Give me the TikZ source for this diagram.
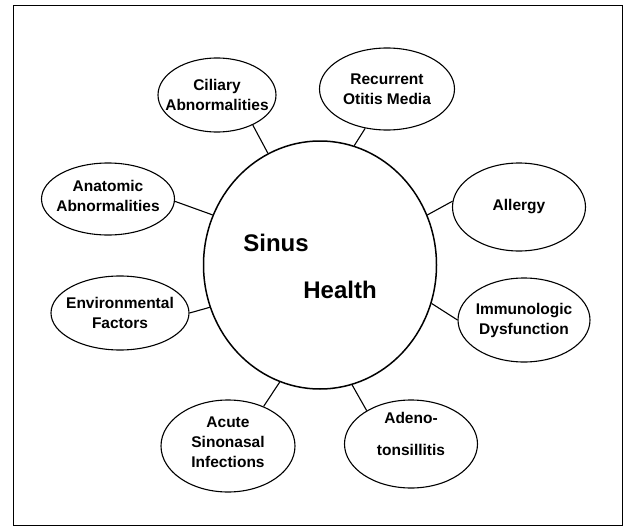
\documentclass[tikz,border=0pt]{standalone}
\usepackage{fontspec}
\setmainfont{Liberation Sans}
\usetikzlibrary{shapes, positioning}

\begin{document}
\begin{tikzpicture}[
        x=1pt, y=-1pt,
        hub/.style={ellipse, draw, line width=1.5pt, minimum width=233pt, minimum height=248pt, inner sep=0pt},
        sat/.style={ellipse, draw, line width=1.1pt, inner sep=0pt},
        lbl/.style={font=\bfseries\fontsize{15.5}{20}\selectfont, align=center, inner sep=0pt},
        big/.style={font=\bfseries\fontsize{24}{28}\selectfont, inner sep=0pt},
        link/.style={line width=1.1pt}
    ]
    \useasboundingbox (0,0) rectangle (624,527);

    % --- Frame ---
    \draw[line width=1pt] (13,6) rectangle (622,525);

    % --- Hub ---
    \node[hub] (hub) at (320,265) {};
    \node[big] (sinus) at (276,243) {Sinus};
    \node[big] (health) at (340,290) {Health};

    % --- Satellites ---
    \node[sat, minimum width=118pt, minimum height=74pt] (cil) at (217,95) {};
    \node[lbl] (cil-t) at (cil) {Ciliary\\Abnormalities};

    \node[sat, minimum width=135pt, minimum height=82pt] (otitis) at (387,89) {};
    \node[lbl] (otitis-t) at (otitis) {Recurrent\\Otitis Media};

    \node[sat, minimum width=133pt, minimum height=72pt] (anat) at (108,199) {};
    \node[lbl, yshift=3pt] (anat-t) at (anat) {Anatomic\\Abnormalities};

    \node[sat, minimum width=133pt, minimum height=88pt] (allergy) at (519,207) {};
    \node[lbl] (allergy-t) at (allergy) {Allergy};

    \node[sat, minimum width=138pt, minimum height=74pt] (env) at (120,313) {};
    \node[lbl] (env-t) at (env) {Environmental\\Factors};

    \node[sat, minimum width=132pt, minimum height=84pt] (immuno) at (524,320) {};
    \node[lbl] (immuno-t) at (immuno) {Immunologic\\Dysfunction};

    \node[sat, minimum width=134pt, minimum height=92pt] (acute) at (228,446) {};
    \node[lbl, yshift=4pt] (acute-t) at (acute) {Acute\\Sinonasal\\Infections};

    \node[sat, minimum width=133pt, minimum height=88pt] (adeno) at (411,444) {};
    \node[lbl, yshift=10pt] (adeno-t) at (adeno) {Adeno-\\[12pt]tonsillitis};

    % --- Links ---
    \draw[link] (hub.115) -- (cil.320);
    \draw[link] (hub.74) -- (otitis.241);
    \draw[link] (hub.155) -- (anat.358);
    \draw[link] (hub.25) -- (allergy.175);
    \draw[link] (hub.201) -- (env.0);
    \draw[link] (hub.341) -- (immuno.180);
    \draw[link] (hub.251) -- (acute.48);
    \draw[link] (hub.285) -- (adeno.143);

\end{tikzpicture}
\end{document}
